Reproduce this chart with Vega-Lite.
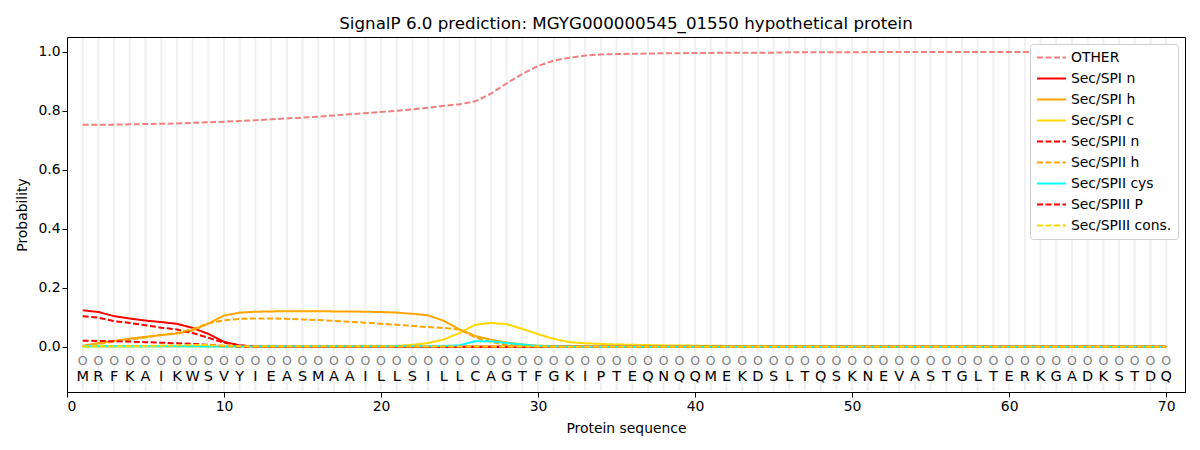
{
  "$schema": "https://vega.github.io/schema/vega-lite/v6.json",
  "width": 1118,
  "height": 355,
  "autosize": "none",
  "padding": {"left": 67, "top": 37, "right": 15, "bottom": 58},
  "config": {
    "font": "DejaVu Sans",
    "view": {"stroke": "black", "strokeWidth": 1},
    "axis": {
      "labelFontSize": 13.9,
      "labelColor": "black",
      "titleFontSize": 13.9,
      "titleFontWeight": "normal",
      "titleColor": "black",
      "tickColor": "black",
      "tickSize": 5,
      "domainColor": "black",
      "grid": false
    },
    "legend": {
      "labelFontSize": 13.9,
      "labelColor": "black"
    }
  },
  "title": {
    "text": "SignalP 6.0 prediction: MGYG000000545_01550 hypothetical protein",
    "fontSize": 16.7,
    "fontWeight": "normal",
    "color": "black",
    "offset": 4
  },
  "datasets": {
    "labels": [
      {"key": "o", "label": "OTHER"},
      {"key": "n1", "label": "Sec/SPI n"},
      {"key": "h1", "label": "Sec/SPI h"},
      {"key": "c1", "label": "Sec/SPI c"},
      {"key": "n2", "label": "Sec/SPII n"},
      {"key": "h2", "label": "Sec/SPII h"},
      {"key": "cys", "label": "Sec/SPII cys"},
      {"key": "p3", "label": "Sec/SPIII P"},
      {"key": "c3", "label": "Sec/SPIII cons."}
    ],
    "seq": [
      {"i": 1, "aa": "M", "o": 0.753, "n1": 0.124, "h1": 0.003, "c1": 0.001, "n2": 0.104, "h2": 0.003, "cys": 0.002, "p3": 0.021, "c3": 0.001},
      {"i": 2, "aa": "R", "o": 0.753, "n1": 0.118, "h1": 0.013, "c1": 0.001, "n2": 0.099, "h2": 0.010, "cys": 0.002, "p3": 0.020, "c3": 0.002},
      {"i": 3, "aa": "F", "o": 0.753, "n1": 0.104, "h1": 0.020, "c1": 0.001, "n2": 0.087, "h2": 0.018, "cys": 0.002, "p3": 0.019, "c3": 0.002},
      {"i": 4, "aa": "K", "o": 0.754, "n1": 0.096, "h1": 0.028, "c1": 0.001, "n2": 0.081, "h2": 0.025, "cys": 0.002, "p3": 0.018, "c3": 0.003},
      {"i": 5, "aa": "A", "o": 0.755, "n1": 0.089, "h1": 0.034, "c1": 0.001, "n2": 0.073, "h2": 0.032, "cys": 0.002, "p3": 0.016, "c3": 0.003},
      {"i": 6, "aa": "I", "o": 0.756, "n1": 0.084, "h1": 0.040, "c1": 0.001, "n2": 0.065, "h2": 0.040, "cys": 0.002, "p3": 0.014, "c3": 0.004},
      {"i": 7, "aa": "K", "o": 0.757, "n1": 0.078, "h1": 0.045, "c1": 0.001, "n2": 0.059, "h2": 0.047, "cys": 0.002, "p3": 0.012, "c3": 0.005},
      {"i": 8, "aa": "W", "o": 0.759, "n1": 0.064, "h1": 0.056, "c1": 0.001, "n2": 0.047, "h2": 0.060, "cys": 0.002, "p3": 0.010, "c3": 0.006},
      {"i": 9, "aa": "S", "o": 0.761, "n1": 0.044, "h1": 0.079, "c1": 0.001, "n2": 0.031, "h2": 0.080, "cys": 0.001, "p3": 0.007, "c3": 0.006},
      {"i": 10, "aa": "V", "o": 0.763, "n1": 0.017, "h1": 0.106, "c1": 0.001, "n2": 0.014, "h2": 0.090, "cys": 0.001, "p3": 0.003, "c3": 0.004},
      {"i": 11, "aa": "Y", "o": 0.765, "n1": 0.005, "h1": 0.116, "c1": 0.001, "n2": 0.005, "h2": 0.095, "cys": 0.001, "p3": 0.001, "c3": 0.002},
      {"i": 12, "aa": "I", "o": 0.768, "n1": 0.001, "h1": 0.119, "c1": 0.001, "n2": 0.001, "h2": 0.096, "cys": 0.001, "p3": 0.0, "c3": 0.001},
      {"i": 13, "aa": "E", "o": 0.771, "n1": 0.0, "h1": 0.120, "c1": 0.001, "n2": 0.0, "h2": 0.096, "cys": 0.001, "p3": 0.0, "c3": 0.001},
      {"i": 14, "aa": "A", "o": 0.774, "n1": 0.0, "h1": 0.121, "c1": 0.001, "n2": 0.0, "h2": 0.095, "cys": 0.001, "p3": 0.0, "c3": 0.001},
      {"i": 15, "aa": "S", "o": 0.777, "n1": 0.0, "h1": 0.121, "c1": 0.001, "n2": 0.0, "h2": 0.093, "cys": 0.001, "p3": 0.0, "c3": 0.001},
      {"i": 16, "aa": "M", "o": 0.780, "n1": 0.0, "h1": 0.121, "c1": 0.001, "n2": 0.0, "h2": 0.091, "cys": 0.001, "p3": 0.0, "c3": 0.001},
      {"i": 17, "aa": "A", "o": 0.784, "n1": 0.0, "h1": 0.120, "c1": 0.001, "n2": 0.0, "h2": 0.088, "cys": 0.001, "p3": 0.0, "c3": 0.001},
      {"i": 18, "aa": "A", "o": 0.788, "n1": 0.0, "h1": 0.120, "c1": 0.002, "n2": 0.0, "h2": 0.085, "cys": 0.001, "p3": 0.0, "c3": 0.001},
      {"i": 19, "aa": "I", "o": 0.792, "n1": 0.0, "h1": 0.119, "c1": 0.002, "n2": 0.0, "h2": 0.082, "cys": 0.001, "p3": 0.0, "c3": 0.001},
      {"i": 20, "aa": "L", "o": 0.796, "n1": 0.0, "h1": 0.118, "c1": 0.002, "n2": 0.0, "h2": 0.078, "cys": 0.001, "p3": 0.0, "c3": 0.001},
      {"i": 21, "aa": "L", "o": 0.800, "n1": 0.0, "h1": 0.116, "c1": 0.003, "n2": 0.0, "h2": 0.075, "cys": 0.002, "p3": 0.0, "c3": 0.001},
      {"i": 22, "aa": "S", "o": 0.805, "n1": 0.0, "h1": 0.112, "c1": 0.007, "n2": 0.0, "h2": 0.071, "cys": 0.002, "p3": 0.0, "c3": 0.001},
      {"i": 23, "aa": "I", "o": 0.810, "n1": 0.0, "h1": 0.107, "c1": 0.013, "n2": 0.0, "h2": 0.067, "cys": 0.002, "p3": 0.0, "c3": 0.001},
      {"i": 24, "aa": "L", "o": 0.817, "n1": 0.0, "h1": 0.088, "c1": 0.025, "n2": 0.0, "h2": 0.064, "cys": 0.003, "p3": 0.0, "c3": 0.001},
      {"i": 25, "aa": "L", "o": 0.822, "n1": 0.0, "h1": 0.059, "c1": 0.047, "n2": 0.0, "h2": 0.059, "cys": 0.005, "p3": 0.0, "c3": 0.001},
      {"i": 26, "aa": "C", "o": 0.832, "n1": 0.0, "h1": 0.037, "c1": 0.075, "n2": 0.0, "h2": 0.032, "cys": 0.019, "p3": 0.0, "c3": 0.001},
      {"i": 27, "aa": "A", "o": 0.858, "n1": 0.0, "h1": 0.024, "c1": 0.081, "n2": 0.0, "h2": 0.016, "cys": 0.019, "p3": 0.0, "c3": 0.001},
      {"i": 28, "aa": "G", "o": 0.893, "n1": 0.0, "h1": 0.015, "c1": 0.077, "n2": 0.0, "h2": 0.007, "cys": 0.013, "p3": 0.0, "c3": 0.001},
      {"i": 29, "aa": "T", "o": 0.925, "n1": 0.0, "h1": 0.008, "c1": 0.061, "n2": 0.0, "h2": 0.003, "cys": 0.008, "p3": 0.0, "c3": 0.001},
      {"i": 30, "aa": "F", "o": 0.952, "n1": 0.0, "h1": 0.004, "c1": 0.043, "n2": 0.0, "h2": 0.001, "cys": 0.003, "p3": 0.0, "c3": 0.001},
      {"i": 31, "aa": "G", "o": 0.970, "n1": 0.0, "h1": 0.002, "c1": 0.027, "n2": 0.0, "h2": 0.001, "cys": 0.001, "p3": 0.0, "c3": 0.0},
      {"i": 32, "aa": "K", "o": 0.980, "n1": 0.0, "h1": 0.001, "c1": 0.016, "n2": 0.0, "h2": 0.0, "cys": 0.001, "p3": 0.0, "c3": 0.0},
      {"i": 33, "aa": "I", "o": 0.987, "n1": 0.0, "h1": 0.001, "c1": 0.012, "n2": 0.0, "h2": 0.0, "cys": 0.0, "p3": 0.0, "c3": 0.0},
      {"i": 34, "aa": "P", "o": 0.991, "n1": 0.0, "h1": 0.0, "c1": 0.010, "n2": 0.0, "h2": 0.0, "cys": 0.0, "p3": 0.0, "c3": 0.0},
      {"i": 35, "aa": "T", "o": 0.992, "n1": 0.0, "h1": 0.0, "c1": 0.008, "n2": 0.0, "h2": 0.0, "cys": 0.0, "p3": 0.0, "c3": 0.0},
      {"i": 36, "aa": "E", "o": 0.993, "n1": 0.0, "h1": 0.0, "c1": 0.007, "n2": 0.0, "h2": 0.0, "cys": 0.0, "p3": 0.0, "c3": 0.0},
      {"i": 37, "aa": "Q", "o": 0.994, "n1": 0.0, "h1": 0.0, "c1": 0.006, "n2": 0.0, "h2": 0.0, "cys": 0.0, "p3": 0.0, "c3": 0.0},
      {"i": 38, "aa": "N", "o": 0.995, "n1": 0.0, "h1": 0.0, "c1": 0.005, "n2": 0.0, "h2": 0.0, "cys": 0.0, "p3": 0.0, "c3": 0.0},
      {"i": 39, "aa": "Q", "o": 0.995, "n1": 0.0, "h1": 0.0, "c1": 0.005, "n2": 0.0, "h2": 0.0, "cys": 0.0, "p3": 0.0, "c3": 0.0},
      {"i": 40, "aa": "Q", "o": 0.996, "n1": 0.0, "h1": 0.0, "c1": 0.004, "n2": 0.0, "h2": 0.0, "cys": 0.0, "p3": 0.0, "c3": 0.0},
      {"i": 41, "aa": "M", "o": 0.996, "n1": 0.0, "h1": 0.0, "c1": 0.004, "n2": 0.0, "h2": 0.0, "cys": 0.0, "p3": 0.0, "c3": 0.0},
      {"i": 42, "aa": "E", "o": 0.997, "n1": 0.0, "h1": 0.0, "c1": 0.003, "n2": 0.0, "h2": 0.0, "cys": 0.0, "p3": 0.0, "c3": 0.0},
      {"i": 43, "aa": "K", "o": 0.997, "n1": 0.0, "h1": 0.0, "c1": 0.003, "n2": 0.0, "h2": 0.0, "cys": 0.0, "p3": 0.0, "c3": 0.0},
      {"i": 44, "aa": "D", "o": 0.997, "n1": 0.0, "h1": 0.0, "c1": 0.003, "n2": 0.0, "h2": 0.0, "cys": 0.0, "p3": 0.0, "c3": 0.0},
      {"i": 45, "aa": "S", "o": 0.997, "n1": 0.0, "h1": 0.0, "c1": 0.002, "n2": 0.0, "h2": 0.0, "cys": 0.0, "p3": 0.0, "c3": 0.0},
      {"i": 46, "aa": "L", "o": 0.998, "n1": 0.0, "h1": 0.0, "c1": 0.002, "n2": 0.0, "h2": 0.0, "cys": 0.0, "p3": 0.0, "c3": 0.0},
      {"i": 47, "aa": "T", "o": 0.998, "n1": 0.0, "h1": 0.0, "c1": 0.002, "n2": 0.0, "h2": 0.0, "cys": 0.0, "p3": 0.0, "c3": 0.0},
      {"i": 48, "aa": "Q", "o": 0.998, "n1": 0.0, "h1": 0.0, "c1": 0.002, "n2": 0.0, "h2": 0.0, "cys": 0.0, "p3": 0.0, "c3": 0.0},
      {"i": 49, "aa": "S", "o": 0.998, "n1": 0.0, "h1": 0.0, "c1": 0.001, "n2": 0.0, "h2": 0.0, "cys": 0.0, "p3": 0.0, "c3": 0.0},
      {"i": 50, "aa": "K", "o": 0.998, "n1": 0.0, "h1": 0.0, "c1": 0.001, "n2": 0.0, "h2": 0.0, "cys": 0.0, "p3": 0.0, "c3": 0.0},
      {"i": 51, "aa": "N", "o": 0.999, "n1": 0.0, "h1": 0.0, "c1": 0.001, "n2": 0.0, "h2": 0.0, "cys": 0.0, "p3": 0.0, "c3": 0.0},
      {"i": 52, "aa": "E", "o": 0.999, "n1": 0.0, "h1": 0.0, "c1": 0.001, "n2": 0.0, "h2": 0.0, "cys": 0.0, "p3": 0.0, "c3": 0.0},
      {"i": 53, "aa": "V", "o": 0.999, "n1": 0.0, "h1": 0.0, "c1": 0.001, "n2": 0.0, "h2": 0.0, "cys": 0.0, "p3": 0.0, "c3": 0.0},
      {"i": 54, "aa": "A", "o": 0.999, "n1": 0.0, "h1": 0.0, "c1": 0.001, "n2": 0.0, "h2": 0.0, "cys": 0.0, "p3": 0.0, "c3": 0.0},
      {"i": 55, "aa": "S", "o": 0.999, "n1": 0.0, "h1": 0.0, "c1": 0.001, "n2": 0.0, "h2": 0.0, "cys": 0.0, "p3": 0.0, "c3": 0.0},
      {"i": 56, "aa": "T", "o": 0.999, "n1": 0.0, "h1": 0.0, "c1": 0.001, "n2": 0.0, "h2": 0.0, "cys": 0.0, "p3": 0.0, "c3": 0.0},
      {"i": 57, "aa": "G", "o": 0.999, "n1": 0.0, "h1": 0.0, "c1": 0.001, "n2": 0.0, "h2": 0.0, "cys": 0.0, "p3": 0.0, "c3": 0.0},
      {"i": 58, "aa": "L", "o": 0.999, "n1": 0.0, "h1": 0.0, "c1": 0.001, "n2": 0.0, "h2": 0.0, "cys": 0.0, "p3": 0.0, "c3": 0.0},
      {"i": 59, "aa": "T", "o": 0.999, "n1": 0.0, "h1": 0.0, "c1": 0.001, "n2": 0.0, "h2": 0.0, "cys": 0.0, "p3": 0.0, "c3": 0.0},
      {"i": 60, "aa": "E", "o": 0.999, "n1": 0.0, "h1": 0.0, "c1": 0.001, "n2": 0.0, "h2": 0.0, "cys": 0.0, "p3": 0.0, "c3": 0.0},
      {"i": 61, "aa": "R", "o": 0.999, "n1": 0.0, "h1": 0.0, "c1": 0.001, "n2": 0.0, "h2": 0.0, "cys": 0.0, "p3": 0.0, "c3": 0.0},
      {"i": 62, "aa": "K", "o": 0.999, "n1": 0.0, "h1": 0.0, "c1": 0.001, "n2": 0.0, "h2": 0.0, "cys": 0.0, "p3": 0.0, "c3": 0.0},
      {"i": 63, "aa": "G", "o": 0.999, "n1": 0.0, "h1": 0.0, "c1": 0.001, "n2": 0.0, "h2": 0.0, "cys": 0.0, "p3": 0.0, "c3": 0.0},
      {"i": 64, "aa": "A", "o": 0.999, "n1": 0.0, "h1": 0.0, "c1": 0.001, "n2": 0.0, "h2": 0.0, "cys": 0.0, "p3": 0.0, "c3": 0.0},
      {"i": 65, "aa": "D", "o": 0.999, "n1": 0.0, "h1": 0.0, "c1": 0.001, "n2": 0.0, "h2": 0.0, "cys": 0.0, "p3": 0.0, "c3": 0.0},
      {"i": 66, "aa": "K", "o": 0.999, "n1": 0.0, "h1": 0.0, "c1": 0.001, "n2": 0.0, "h2": 0.0, "cys": 0.0, "p3": 0.0, "c3": 0.0},
      {"i": 67, "aa": "S", "o": 0.999, "n1": 0.0, "h1": 0.0, "c1": 0.001, "n2": 0.0, "h2": 0.0, "cys": 0.0, "p3": 0.0, "c3": 0.0},
      {"i": 68, "aa": "T", "o": 0.999, "n1": 0.0, "h1": 0.0, "c1": 0.001, "n2": 0.0, "h2": 0.0, "cys": 0.0, "p3": 0.0, "c3": 0.0},
      {"i": 69, "aa": "D", "o": 0.999, "n1": 0.0, "h1": 0.0, "c1": 0.001, "n2": 0.0, "h2": 0.0, "cys": 0.0, "p3": 0.0, "c3": 0.0},
      {"i": 70, "aa": "Q", "o": 0.999, "n1": 0.0, "h1": 0.0, "c1": 0.001, "n2": 0.0, "h2": 0.0, "cys": 0.0, "p3": 0.0, "c3": 0.0}
    ]
  },
  "data": {"name": "seq"},
  "encoding": {
    "x": {
      "field": "i",
      "type": "quantitative",
      "scale": {"domain": [0, 71.2], "nice": false, "zero": false},
      "axis": {"values": [0, 10, 20, 30, 40, 50, 60, 70], "title": "Protein sequence", "titlePadding": 9}
    }
  },
  "layer": [
    {
      "mark": {"type": "rule", "color": "#f0f0f0", "strokeWidth": 2},
      "encoding": {
        "y": {"datum": -0.15, "type": "quantitative"},
        "y2": {"datum": 1.047}
      }
    },
    {
      "transform": [
        {"fold": ["o", "n1", "h1", "c1", "n2", "h2", "cys", "p3", "c3"], "as": ["key", "p"]},
        {"lookup": "key", "from": {"data": {"name": "labels"}, "key": "key", "fields": ["label"]}}
      ],
      "mark": {"type": "line", "strokeWidth": 2},
      "encoding": {
        "y": {
          "field": "p",
          "type": "quantitative",
          "scale": {"domain": [-0.153, 1.05], "nice": false, "zero": false},
          "axis": {"values": [0, 0.2, 0.4, 0.6, 0.8, 1.0], "format": ".1f", "title": "Probability", "titlePadding": 8}
        },
        "color": {
          "field": "label",
          "type": "nominal",
          "scale": {
            "domain": ["OTHER", "Sec/SPI n", "Sec/SPI h", "Sec/SPI c", "Sec/SPII n", "Sec/SPII h", "Sec/SPII cys", "Sec/SPIII P", "Sec/SPIII cons."],
            "range": ["#f08080", "#ff0000", "#ffa500", "#ffd700", "#ff0000", "#ffa500", "#00ffff", "#ff0000", "#ffd700"]
          },
          "legend": {
            "title": null,
            "orient": "top-right",
            "offset": 7,
            "symbolType": "stroke",
            "symbolSize": 841,
            "symbolStrokeWidth": 2,
            "clipHeight": 15,
            "labelFontSize": 13.9,
            "rowPadding": 6,
            "padding": 6,
            "strokeColor": "#d0d0d0",
            "fillColor": "#ffffff",
            "cornerRadius": 3
          }
        },
        "strokeDash": {
          "field": "label",
          "type": "nominal",
          "scale": {
            "domain": ["OTHER", "Sec/SPI n", "Sec/SPI h", "Sec/SPI c", "Sec/SPII n", "Sec/SPII h", "Sec/SPII cys", "Sec/SPIII P", "Sec/SPIII cons."],
            "range": [[6, 2.5], [1, 0], [1, 0], [1, 0], [6, 2.5], [6, 2.5], [1, 0], [6, 2.5], [6, 2.5]]
          }
        }
      }
    },
    {
      "mark": {"type": "text", "text": "O", "fontSize": 12.5, "color": "#808080", "baseline": "middle"},
      "encoding": {"y": {"datum": -0.047, "type": "quantitative"}}
    },
    {
      "mark": {"type": "text", "fontSize": 14.5, "color": "black", "baseline": "middle"},
      "encoding": {
        "y": {"datum": -0.101, "type": "quantitative"},
        "text": {"field": "aa"}
      }
    }
  ]
}
